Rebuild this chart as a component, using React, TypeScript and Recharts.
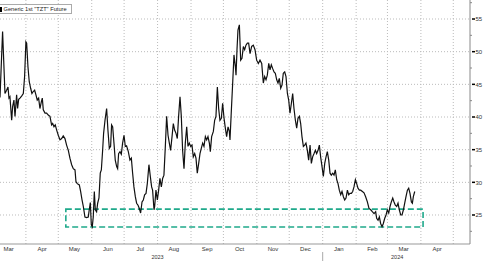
import React from 'react';
import { LineChart, Line, XAxis, YAxis, CartesianGrid, ReferenceArea, Legend } from 'recharts';

// days are counted from 1 Mar 2023
const DAY0 = '2023-03-01';
const toDay = (s: string) => (Date.parse(s) - Date.parse(DAY0)) / 86400000;

const days = [
  7.0, 9.4, 11.6, 13.1, 14.4, 15.3, 16.2, 17.8, 18.7, 19.9, 20.9, 22.4, 23.3, 24.3, 25.5, 27.0, 28.6, 29.8, 31.0, 31.7,
  32.9, 34.1, 35.4, 36.6, 37.8, 39.1, 40.3, 41.5, 42.8, 44.0, 45.3, 46.2, 47.1, 48.7, 50.2, 51.7, 53.3, 54.8, 55.8, 57.0,
  58.2, 59.5, 61.0,
  62.6, 64.1, 65.6, 67.2, 68.7, 70.3, 71.8, 73.4, 74.9, 76.5, 77.4, 78.6, 80.5, 81.7, 83.0, 84.2, 85.7, 87.3, 88.8, 89.7,
  90.7, 91.6, 92.5, 93.4, 94.4, 95.3, 96.5, 97.5, 98.7, 99.9, 100.9, 102.1, 103.0, 104.3, 105.8, 107.0, 108.3, 109.5, 110.4, 111.4,
  112.6, 113.8, 115.1, 116.0, 116.9, 118.2, 119.4, 120.6, 121.9, 123.1, 124.3, 125.9, 127.4,
  128.7, 129.9, 131.1, 132.4, 133.6, 134.9, 136.1, 137.3, 138.6, 139.8, 141.0, 142.3, 143.5, 145.0, 146.3, 147.5, 148.4, 149.7, 150.3, 151.5,
  152.8, 154.0, 155.2, 156.5, 157.7, 158.9, 160.2, 161.4, 162.7, 163.9, 165.1, 166.4, 167.6, 168.8, 170.1, 171.3, 172.5, 173.8,
  175.0, 176.2, 177.5, 178.7, 180.0, 181.2, 182.4, 183.7, 184.9, 186.1, 187.4, 188.6, 189.8, 191.1, 192.3, 193.5, 194.8, 196.0, 197.3, 198.5,
  199.7, 201.0, 201.9, 203.1, 204.7, 205.9, 207.1, 208.4, 209.6, 210.8, 212.1, 213.3, 214.6, 215.8, 217.0, 218.3, 219.5, 220.1, 221.4, 222.6,
  223.8, 225.1, 225.7, 226.6, 227.5, 228.8, 230.0, 231.2, 232.5, 233.7, 234.9, 236.2, 237.4, 238.7,
  240.2, 241.7, 243.3, 244.8, 246.4, 247.9, 249.5, 251.0, 252.2, 253.5, 254.7, 256.0, 257.2, 258.4, 259.7, 260.9, 262.1, 263.4, 264.6, 265.8,
  267.1, 268.3, 269.5, 270.8, 272.0, 273.3, 274.5, 275.7, 277.0, 278.2, 279.4, 280.7, 281.9, 283.1, 284.4, 285.6, 286.8, 288.1, 289.3, 290.5,
  291.8, 293.0, 294.3,
  295.5, 296.7, 298.0, 299.2, 300.4, 301.7, 302.9, 304.1, 305.4, 306.6, 307.9, 309.1, 310.3, 311.6, 312.8, 314.0, 315.3, 316.5, 317.7, 319.0,
  320.2, 321.4, 322.7, 323.9, 325.2, 326.4, 327.6, 328.9, 330.1, 331.3, 332.6, 333.8, 335.0, 336.3, 337.5, 338.7, 340.0,
  341.2, 342.8, 344.3, 345.8, 347.4, 348.9, 350.5, 352.0, 353.6, 355.1, 356.0, 357.3, 358.5, 359.7, 361.0, 362.2, 363.5, 364.7, 365.9, 367.2,
  368.4, 369.6, 370.9, 372.1, 373.3, 374.6, 375.8, 377.0, 378.3, 379.5, 380.8, 382.0, 383.2, 384.5, 385.7, 386.9, 388.2, 389.1, 390.0, 391.3,
];

const prices = [
  43.0, 53.1, 43.6, 44.1, 44.6, 42.9, 43.1, 39.5, 41.6, 42.6, 40.1, 43.4, 41.3, 42.7, 42.9, 43.2, 43.6, 46.2, 51.5, 51.3,
  47.7, 45.4, 44.4, 43.6, 43.9, 44.1, 43.4, 42.6, 42.9, 41.3, 42.3, 42.9, 41.1, 40.6, 40.6, 40.3, 40.1, 38.8, 39.0, 38.5,
  38.8, 38.0, 37.2,
  36.5, 36.7, 37.1, 36.7, 35.7, 34.9, 33.7, 32.7, 32.1, 31.9, 30.1, 29.8, 29.6, 28.6, 27.3, 26.3, 24.7, 24.6, 24.7, 25.8,
  26.9, 23.5, 23.2, 24.7, 28.6, 25.8, 25.5, 26.8, 27.6, 31.4, 31.9, 34.9, 37.5, 39.5, 41.3, 38.0, 35.2, 35.5, 38.8, 38.5,
  36.0, 33.4, 32.4, 32.1, 34.4, 34.7, 34.3, 36.0, 37.2, 35.5, 35.6, 34.7, 33.4,
  33.7, 31.4, 29.3, 27.8, 26.8, 26.5, 26.0, 25.3, 27.0, 27.3, 28.1, 28.3, 29.8, 32.7, 30.9, 29.3, 28.8, 25.8, 26.3, 28.8,
  27.3, 28.8, 30.6, 29.3, 30.6, 31.1, 35.5, 40.1, 37.2, 36.0, 34.9, 37.0, 39.0, 38.0, 37.5, 36.7, 40.1, 43.1,
  40.1, 34.9, 32.1, 36.0, 38.5, 35.5, 36.0, 35.5, 35.7, 33.9, 34.4, 33.7, 31.4, 32.9, 34.4, 35.2, 36.0, 35.5, 37.0, 36.5,
  37.0, 36.0, 34.7, 37.0, 37.8, 39.5, 40.1, 44.6, 41.3, 39.5, 39.8, 42.1, 39.8, 38.3, 37.0, 38.5, 37.8, 36.5, 41.1, 45.2,
  49.5, 47.7, 46.4, 50.3, 53.3, 54.1, 48.7, 49.0, 50.8, 50.3, 51.0, 51.3, 51.3, 49.7,
  50.8, 51.0, 50.3, 48.7, 48.2, 48.7, 48.2, 45.2, 46.2, 45.7, 46.4, 48.2, 47.2, 48.0, 47.4, 46.9, 46.7, 45.7, 45.2, 45.9,
  44.4, 44.9, 46.7, 46.9, 46.2, 43.6, 42.6, 40.6, 42.1, 43.6, 41.3, 39.5, 38.3, 39.8, 40.1, 39.0, 37.0, 35.5, 35.7, 36.0,
  34.9, 33.4, 35.7,
  32.9, 33.9, 34.4, 34.9, 34.4, 34.9, 35.7, 33.9, 32.4, 30.9, 32.9, 33.9, 34.7, 33.4, 31.4, 31.1, 31.4, 31.1, 31.9, 30.4,
  29.8, 28.8, 28.1, 28.6, 27.8, 27.3, 27.6, 28.8, 28.1, 28.3, 28.3, 28.6, 29.3, 30.4, 29.8, 29.1, 28.8,
  28.8, 28.6, 28.4, 27.8, 27.0, 26.0, 25.8, 25.5, 25.2, 25.5, 24.5, 24.2, 24.7, 23.7, 23.2, 23.7, 24.5, 25.0, 25.8, 25.3,
  26.3, 27.0, 27.6, 27.0, 26.5, 26.3, 26.8, 25.8, 25.0, 25.0, 25.8, 26.8, 27.8, 28.8, 29.1, 28.3, 27.0, 26.8, 27.8, 28.6,
];

const monthStarts = [
  '2023-03-01', '2023-04-01', '2023-05-01', '2023-06-01', '2023-07-01', '2023-08-01', '2023-09-01', '2023-10-01',
  '2023-11-01', '2023-12-01', '2024-01-01', '2024-02-01', '2024-03-01', '2024-04-01', '2024-05-01',
];
const monthLabels = ['Mar', 'Apr', 'May', 'Jun', 'Jul', 'Aug', 'Sep', 'Oct', 'Nov', 'Dec', 'Jan', 'Feb', 'Mar', 'Apr'];

const yearLabels = ['2023', '2024'];
const yearLabelDates = ['2023-08-01', '2024-03-10'];
const yearBreak = '2024-01-01';

const yMajor = [25, 30, 35, 40, 45, 50, 55];
const yMinor = [22.5, 27.5, 32.5, 37.5, 42.5, 47.5, 52.5, 57.5];

// the support band drawn as a dashed box
const boxDates = ['2023-05-08', '2024-04-03'];
const boxRange = [23.16, 25.9];

const seriesName = 'Generic 1st "TZT" Future';

const data = days.map((d, i) => ({ day: d, price: prices[i] }));
const monthTicks = monthStarts.slice(0, monthLabels.length).map(s => toDay(s) + 15);
const monthLines = monthStarts.slice(1).map(toDay);
const breakDay = toDay(yearBreak);
const yearTicks = [toDay(yearLabelDates[0]), breakDay, toDay(yearLabelDates[1])];

const FONT = '"Liberation Sans", Arial, sans-serif';
const TEAL = '#1fa98b';

const YTick = (props: any) => {
  const { x, y, payload } = props;
  const v = payload.value;
  if (yMajor.includes(v)) {
    return (
      <g>
        <line x1={x} x2={x + 3} y1={y} y2={y} stroke="#000" strokeWidth={1.5} />
        <text x={x + 3.5} y={y} dy={2.2} fontSize={6} fill="#333" fontFamily={FONT}>{v}</text>
      </g>
    );
  }
  return <line x1={x - 2} x2={x} y1={y} y2={y} stroke="#888" />;
};

const YearTick = (props: any) => {
  const { x, y, payload } = props;
  if (payload.value === breakDay) {
    return <line x1={x} x2={x} y1={y - 3} y2={y + 8} stroke="#aaa" />;
  }
  const idx = yearTicks.indexOf(payload.value) === 0 ? 0 : 1;
  return (
    <text x={x} y={y} dy={3.5} textAnchor="middle" fontSize={5.5} fill="#333" fontFamily={FONT}>
      {yearLabels[idx]}
    </text>
  );
};

const LegendBox = () => (
  <div style={{
    border: '1px solid #aaa', background: '#fff', height: 10, width: 73, boxSizing: 'border-box',
    display: 'flex', alignItems: 'center', fontFamily: FONT, fontSize: 5.7, color: '#222', whiteSpace: 'nowrap',
  }}>
    <span style={{ display: 'inline-block', width: 2, height: 5, background: '#000', marginRight: 1.5 }} />
    {seriesName}
  </div>
);

export default function App() {
  return (
    <div style={{ position: 'absolute', left: 0, top: 0, background: '#fff' }}>
      <LineChart width={485} height={261} data={data} margin={{ top: 0, right: 0, bottom: 0, left: 0 }}>
        <CartesianGrid
          xAxisId="main"
          stroke="#bbb"
          strokeDasharray="1 2"
          horizontalValues={yMajor}
          verticalValues={monthLines}
        />
        <XAxis
          xAxisId="main"
          dataKey="day"
          type="number"
          domain={[7, 442.5]}
          allowDataOverflow
          ticks={monthTicks}
          interval={0}
          tickFormatter={(v: number) => monthLabels[monthTicks.indexOf(v)]}
          tick={{ fontSize: 6, fill: '#333', fontFamily: FONT }}
          tickLine={false}
          tickSize={0}
          tickMargin={2.5}
          axisLine={{ stroke: '#999' }}
          height={9}
        />
        <XAxis
          xAxisId="year"
          dataKey="day"
          type="number"
          domain={[7, 442.5]}
          allowDataOverflow
          ticks={yearTicks}
          interval={0}
          tick={<YearTick />}
          tickLine={false}
          tickSize={0}
          axisLine={false}
          height={8}
        />
        <YAxis
          orientation="right"
          domain={[20.56, 57.91]}
          allowDataOverflow
          ticks={[...yMinor, ...yMajor].sort((a, b) => a - b)}
          interval={0}
          tick={<YTick />}
          tickLine={false}
          tickSize={0}
          axisLine={{ stroke: '#888' }}
          width={15}
        />
        <ReferenceArea
          xAxisId="main"
          x1={toDay(boxDates[0])}
          x2={toDay(boxDates[1])}
          y1={boxRange[0]}
          y2={boxRange[1]}
          fill="none"
          fillOpacity={0}
          stroke={TEAL}
          strokeWidth={1.6}
          strokeDasharray="6 3"
          ifOverflow="visible"
        />
        <Line
          xAxisId="main"
          dataKey="price"
          name={seriesName}
          stroke="#111"
          strokeWidth={1.2}
          dot={false}
          activeDot={false}
          isAnimationActive={false}
        />
        <Legend
          layout="horizontal"
          verticalAlign="middle"
          align="center"
          wrapperStyle={{ top: 4, left: -1, width: 'auto' }}
          content={() => <LegendBox />}
        />
      </LineChart>
    </div>
  );
}
